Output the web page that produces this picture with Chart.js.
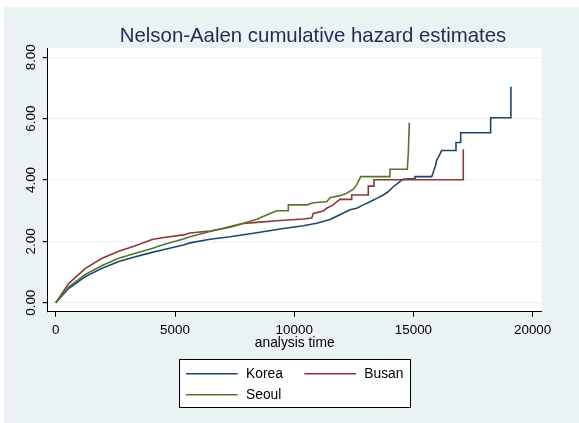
<!DOCTYPE html>
<html>
<head>
<meta charset="utf-8">
<script src="https://cdn.jsdelivr.net/npm/chart.js@4/dist/chart.umd.min.js"></script>
<style>
html,body{margin:0;padding:0;background:#ffffff;}
#bg{position:absolute;left:4px;top:7px;width:575px;height:416px;background:#EAF2F3;}
#wrap{position:absolute;left:0;top:0;width:579px;height:423px;}
</style>
</head>
<body>
<div id="bg"></div>
<div id="wrap"><canvas id="c" width="579" height="423"></canvas></div>
<script>
// ---- data ----
const seriesNames = ['Korea', 'Busan', 'Seoul'];
const seriesColors = ['#1A476F', '#90353B', '#55752F'];

const koreaTime   = [0, 545, 1241, 1941, 2642, 3338, 4038, 4457, 5350, 5631, 6470, 7308, 8428, 9543, 10382, 10944, 11501, 11920, 12340, 12621, 12898, 13179, 13459, 13736, 13946, 14156, 14365, 14550, 15066, 15066, 15766, 15820, 15862, 15933, 15975, 16042, 16185, 16785, 16785, 16982, 16982, 18239, 18239, 19090, 19090];
const koreaHazard = [0, 0.47, 0.85, 1.12, 1.34, 1.50, 1.64, 1.72, 1.88, 1.95, 2.07, 2.15, 2.28, 2.42, 2.51, 2.59, 2.71, 2.87, 3.03, 3.08, 3.19, 3.29, 3.40, 3.51, 3.62, 3.78, 3.91, 4.02, 4.05, 4.11, 4.11, 4.22, 4.33, 4.49, 4.65, 4.74, 4.96, 4.96, 5.22, 5.22, 5.54, 5.54, 6.03, 6.03, 7.04];

const busanTime   = [0, 545, 1241, 1941, 2642, 3338, 4038, 4457, 5350, 5631, 6470, 7308, 7866, 8428, 9267, 10382, 10734, 10801, 11220, 11363, 11640, 11780, 11920, 12411, 12411, 13107, 13107, 13346, 13346, 17091, 17091];
const busanHazard = [0, 0.63, 1.12, 1.45, 1.68, 1.86, 2.06, 2.12, 2.21, 2.27, 2.34, 2.46, 2.58, 2.62, 2.67, 2.73, 2.76, 2.91, 2.99, 3.08, 3.19, 3.29, 3.37, 3.37, 3.51, 3.51, 3.80, 3.80, 4.01, 4.01, 5.00];

const seoulTime   = [0, 545, 1241, 1941, 2642, 3338, 4038, 4457, 5350, 5631, 6470, 7308, 7866, 8428, 8986, 9267, 9753, 9753, 10524, 10801, 11363, 11501, 11920, 12202, 12478, 12621, 12789, 14017, 14017, 14743, 14785, 14827];
const seoulHazard = [0, 0.52, 0.92, 1.21, 1.45, 1.61, 1.77, 1.88, 2.08, 2.15, 2.32, 2.48, 2.59, 2.72, 2.91, 3.00, 3.00, 3.19, 3.19, 3.26, 3.29, 3.42, 3.49, 3.57, 3.70, 3.84, 4.11, 4.11, 4.35, 4.35, 4.87, 5.87];

const xTickValues = [0, 5000, 10000, 15000, 20000];
const yTickValues = [0, 2, 4, 6, 8];
const chartTitle = 'Nelson-Aalen cumulative hazard estimates';
const xAxisTitle = 'analysis time';

// ---- build chart ----
const FONT = '"Liberation Sans", Arial, Helvetica, sans-serif';
Chart.defaults.font.family = FONT;

function toPoints(ts, hs) { return ts.map((t, i) => ({ x: t, y: hs[i] })); }
const allTimes = [koreaTime, busanTime, seoulTime];
const allHaz = [koreaHazard, busanHazard, seoulHazard];

const datasets = seriesNames.map((name, i) => ({
  label: name,
  data: toPoints(allTimes[i], allHaz[i]),
  borderColor: seriesColors[i],
  backgroundColor: seriesColors[i],
  borderWidth: 1.6,
  pointRadius: 0,
  showLine: true,
  tension: 0,
  fill: false,
  order: seriesNames.length - i
}));

const stataPlugin = {
  id: 'stataLook',
  afterLayout(chart) {
    const a = chart.chartArea;
    if (chart.titleBlock) { chart.titleBlock.left = a.left + 36.6; chart.titleBlock.right = a.right; }
  },
  beforeDraw(chart) {
    const { ctx, chartArea: a } = chart;
    ctx.save();
    ctx.fillStyle = '#ffffff';
    ctx.fillRect(a.left, a.top, a.right - a.left, a.bottom - a.top);
    ctx.restore();
  },
  afterDraw(chart) {
    const { ctx, chartArea: a } = chart;
    const cx = (a.left + a.right) / 2;
    const boxW = 231, boxH = 48;
    const bx = Math.round(cx - boxW / 2), by = 359;
    ctx.save();
    ctx.fillStyle = '#ffffff';
    ctx.fillRect(bx, by, boxW, boxH);
    ctx.strokeStyle = '#000000';
    ctx.lineWidth = 1;
    ctx.strokeRect(bx + 0.5, by + 0.5, boxW, boxH);
    ctx.font = '13.8px ' + FONT;
    ctx.textBaseline = 'middle';
    ctx.textAlign = 'left';
    chart.data.datasets.forEach((ds, i) => {
      const col = i % 2, row = Math.floor(i / 2);
      const sx = bx + 7 + col * 118.3;
      const sy = by + 14.8 + row * 21;
      ctx.strokeStyle = ds.borderColor;
      ctx.lineWidth = ds.borderWidth;
      ctx.beginPath();
      ctx.moveTo(sx, sy);
      ctx.lineTo(sx + 51.7, sy);
      ctx.stroke();
      ctx.fillStyle = '#000000';
      ctx.fillText(ds.label, sx + 60, sy + 0.5);
    });
    ctx.restore();
  }
};

new Chart(document.getElementById('c'), {
  type: 'scatter',
  data: { datasets },
  plugins: [stataPlugin],
  options: {
    responsive: false,
    animation: false,
    devicePixelRatio: 1,
    layout: { padding: { left: 0, right: 37.3, top: 0, bottom: 72.8 } },
    plugins: {
      legend: { display: false },
      tooltip: { enabled: false },
      title: {
        display: true,
        text: chartTitle,
        color: '#1E2D53',
        font: { family: FONT, size: 20.4, weight: 'normal', lineHeight: 1 },
        padding: { top: 26.3, bottom: 1.6 }
      }
    },
    scales: {
      x: {
        type: 'linear',
        min: -340,
        max: 20380,
        afterBuildTicks: s => { s.ticks = xTickValues.map(v => ({ value: v })); },
        afterFit: s => { s.height = 38.5; },
        ticks: {
          callback: v => String(v),
          font: { size: 13.4 },
          color: '#000000',
          padding: 5.96,
          maxRotation: 0,
          autoSkip: false
        },
        grid: { drawOnChartArea: false, drawTicks: true, tickLength: 5, tickColor: '#000000' },
        border: { display: true, color: '#000000', width: 1 },
        title: {
          display: true,
          text: xAxisTitle,
          color: '#000000',
          font: { size: 13.8, lineHeight: 1 },
          padding: { top: 0, bottom: 0 }
        }
      },
      y: {
        type: 'linear',
        min: -0.293,
        max: 8.293,
        afterBuildTicks: s => { s.ticks = yTickValues.map(v => ({ value: v })); },
        afterFit: s => { s.width = 47.7; },
        ticks: {
          callback: v => Number(v).toFixed(2),
          font: { size: 13.4 },
          color: '#000000',
          minRotation: 90,
          maxRotation: 90,
          crossAlign: 'center',
          padding: -1.34,
          autoSkip: false
        },
        grid: { color: '#EAF2F3', lineWidth: 1.2, drawTicks: true, tickLength: 5, tickColor: '#000000' },
        border: { display: true, color: '#000000', width: 1 }
      }
    }
  }
});
</script>
</body>
</html>
